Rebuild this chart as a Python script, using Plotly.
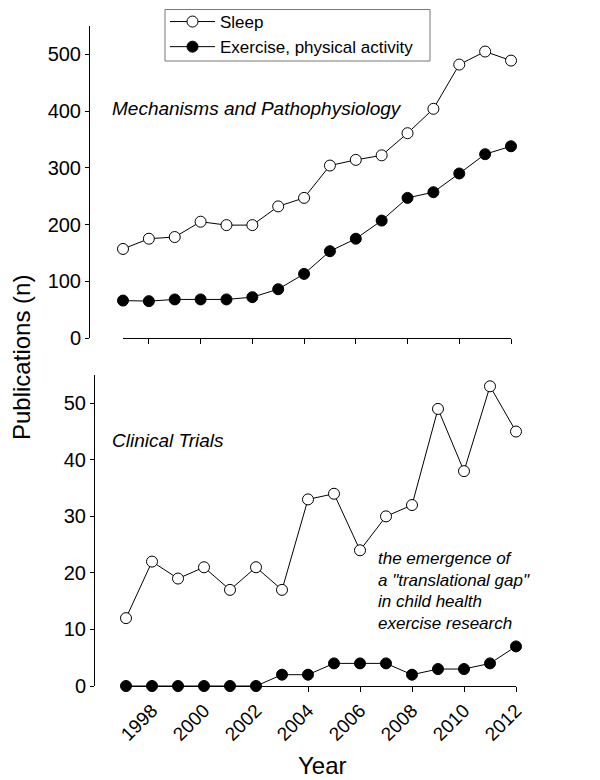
import plotly.graph_objects as go

W, H = 600, 780

years = list(range(1997, 2013))

# Mechanisms and Pathophysiology (top panel)
mech_sleep = [157, 175, 178, 205, 199, 199, 232, 247, 304, 314, 322, 361, 404, 482, 505, 489]
mech_exercise = [66, 65, 68, 68, 68, 72, 86, 113, 153, 175, 207, 247, 257, 290, 324, 338]

# Clinical Trials (bottom panel)
trial_sleep = [12, 22, 19, 21, 17, 21, 17, 33, 34, 24, 30, 32, 49, 38, 53, 45]
trial_exercise = [0, 0, 0, 0, 0, 0, 2, 2, 4, 4, 4, 2, 3, 3, 4, 7]

xtick_years = [1998, 2000, 2002, 2004, 2006, 2008, 2010, 2012]
top_yticks = [0, 100, 200, 300, 400, 500]
bottom_yticks = [0, 10, 20, 30, 40, 50]

series_names = ["Sleep", "Exercise, physical activity"]
gap_lines = ["the emergence of", "a \"translational gap\"", "in child health", "exercise research"]

FONT = "Arial, Liberation Sans, Helvetica, sans-serif"


def px_x(p):
    return p / W


def px_y(p):
    return 1 - p / H


open_marker = dict(symbol="circle", size=11, color="white", line=dict(color="black", width=1))
fill_marker = dict(symbol="circle", size=11, color="black", line=dict(color="black", width=1))
line_style = dict(color="black", width=1)

fig = go.Figure()
fig.add_trace(go.Scatter(x=years, y=mech_sleep, mode="lines+markers", name=series_names[0],
                         marker=open_marker, line=line_style, xaxis="x", yaxis="y",
                         cliponaxis=False))
fig.add_trace(go.Scatter(x=years, y=mech_exercise, mode="lines+markers", name=series_names[1],
                         marker=fill_marker, line=line_style, xaxis="x", yaxis="y",
                         cliponaxis=False))
fig.add_trace(go.Scatter(x=years, y=trial_sleep, mode="lines+markers", name=series_names[0],
                         marker=open_marker, line=line_style, xaxis="x2", yaxis="y2",
                         cliponaxis=False, showlegend=False))
fig.add_trace(go.Scatter(x=years, y=trial_exercise, mode="lines+markers", name=series_names[1],
                         marker=fill_marker, line=line_style, xaxis="x2", yaxis="y2",
                         cliponaxis=False, showlegend=False))


def axis_common(size, ticklen):
    return dict(showline=True, linecolor="black", linewidth=1, ticks="outside",
                ticklen=ticklen, tickwidth=1, tickcolor="black", showgrid=False,
                zeroline=False, automargin=False,
                tickfont=dict(family=FONT, size=size, color="black"))


fig.update_layout(
    width=W, height=H,
    margin=dict(l=0, r=0, t=0, b=0, autoexpand=False),
    paper_bgcolor="white", plot_bgcolor="white",
    font=dict(family=FONT, color="black"),
    xaxis=dict(domain=[px_x(115), px_x(503)], range=[1997, 2012], anchor="y",
               tickvals=xtick_years, showticklabels=False, **axis_common(19, 5)),
    yaxis=dict(domain=[px_y(330), px_y(18)], range=[0, 550], anchor="free",
               position=px_x(81), tickvals=top_yticks, **axis_common(20, 4)),
    xaxis2=dict(domain=[px_x(118), px_x(508)], range=[1997, 2012], anchor="y2",
                tickvals=xtick_years, tickangle=-45, **axis_common(19, 5)),
    yaxis2=dict(domain=[px_y(678), px_y(367)], range=[0, 55], anchor="free",
                position=px_x(86), tickvals=bottom_yticks, **axis_common(20, 4)),
    legend=dict(x=px_x(157), y=px_y(-4), xanchor="left", yanchor="top",
                borderwidth=0, bgcolor="rgba(0,0,0,0)",
                font=dict(family=FONT, size=17, color="black"),
                itemwidth=45, tracegroupgap=0),
    showlegend=True,
    shapes=[dict(type="rect", xref="paper", yref="paper",
                 x0=px_x(157), x1=px_x(422), y0=px_y(53), y1=px_y(1.5),
                 line=dict(color="#777777", width=1), fillcolor="white", layer="below")],
)

annotations = [
    dict(text="Mechanisms and Pathophysiology", x=px_x(102), y=px_y(101),
         xanchor="left", yanchor="middle", font=dict(size=19)),
    dict(text="Clinical Trials", x=px_x(102), y=px_y(432),
         xanchor="left", yanchor="middle", font=dict(size=19)),
    dict(text="Publications (n)", x=px_x(14), y=px_y(350), textangle=-90,
         xanchor="center", yanchor="middle", font=dict(size=24, style="normal")),
    dict(text="Year", x=px_x(314), y=px_y(757),
         xanchor="center", yanchor="middle", font=dict(size=24, style="normal")),
]
gap_y = [550, 572, 593, 615]
for t, yy in zip(gap_lines, gap_y):
    annotations.append(dict(text=t, x=px_x(368), y=px_y(yy), xanchor="left",
                            yanchor="middle", font=dict(size=17)))

for a in annotations:
    a.update(xref="paper", yref="paper", showarrow=False)
    f = a["font"]
    f.setdefault("family", FONT)
    f.setdefault("color", "black")
    f.setdefault("style", "italic")

fig.update_layout(annotations=annotations)

fig.write_html("out.html")
